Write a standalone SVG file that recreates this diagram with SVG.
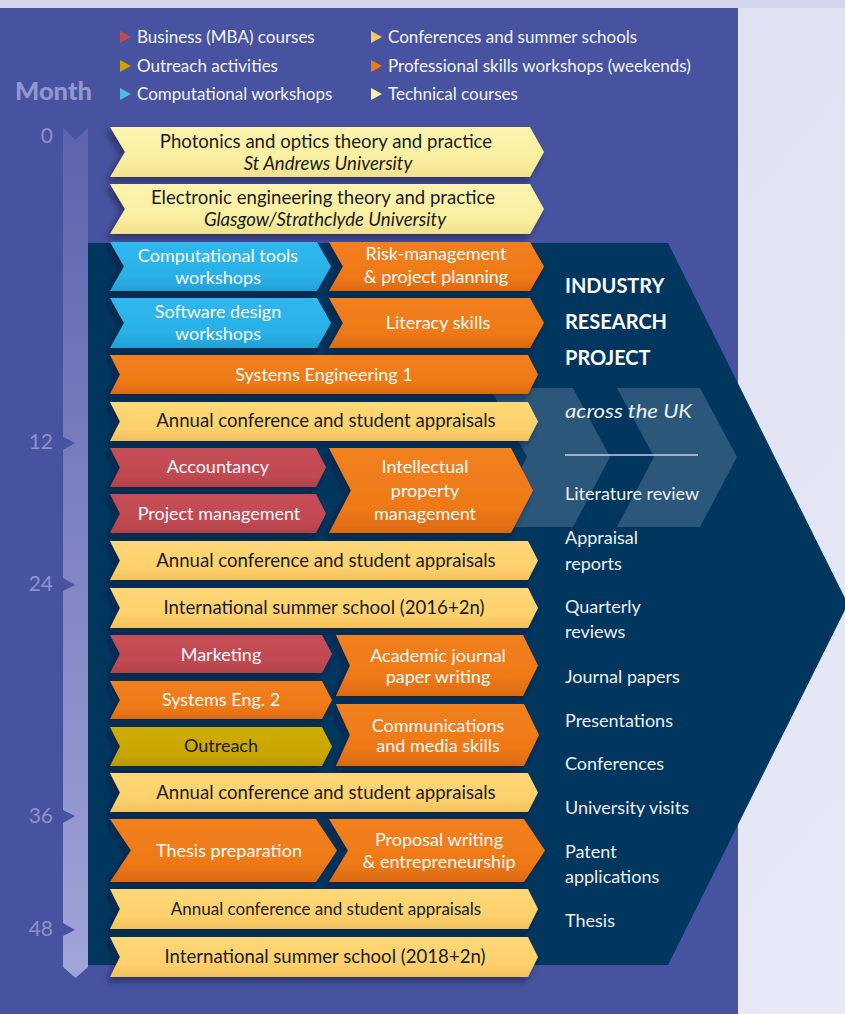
<svg xmlns="http://www.w3.org/2000/svg" width="845" height="1014" viewBox="0 0 845 1014">
<defs>
<linearGradient id="bgR" x1="0" y1="0" x2="1" y2="1"><stop offset="0" stop-color="#d9dcf0"/><stop offset="1" stop-color="#e7e9f6"/></linearGradient>
<linearGradient id="barG" x1="0" y1="128" x2="0" y2="978" gradientUnits="userSpaceOnUse"><stop offset="0" stop-color="#5d64ad"/><stop offset="1" stop-color="#a1a4d7"/></linearGradient>
<linearGradient id="gPale" x1="0" y1="0" x2="0" y2="1"><stop offset="0" stop-color="#fcf4b0"/><stop offset="0.7" stop-color="#faef9f"/><stop offset="1" stop-color="#efe08c"/></linearGradient>
<linearGradient id="gLight" x1="0" y1="0" x2="0" y2="1"><stop offset="0" stop-color="#fed877"/><stop offset="0.7" stop-color="#fdd06b"/><stop offset="1" stop-color="#f0c05c"/></linearGradient>
<linearGradient id="gOrange" x1="0" y1="0" x2="0" y2="1"><stop offset="0" stop-color="#f2801e"/><stop offset="0.7" stop-color="#ee7917"/><stop offset="1" stop-color="#dc6a10"/></linearGradient>
<linearGradient id="gCyan" x1="0" y1="0" x2="0" y2="1"><stop offset="0" stop-color="#30b8ee"/><stop offset="0.7" stop-color="#2ab1e7"/><stop offset="1" stop-color="#22a0d6"/></linearGradient>
<linearGradient id="gRed" x1="0" y1="0" x2="0" y2="1"><stop offset="0" stop-color="#c64e57"/><stop offset="0.7" stop-color="#c14951"/><stop offset="1" stop-color="#b0424a"/></linearGradient>
<linearGradient id="gGold" x1="0" y1="0" x2="0" y2="1"><stop offset="0" stop-color="#cfac02"/><stop offset="0.7" stop-color="#c9a600"/><stop offset="1" stop-color="#b99800"/></linearGradient>
<filter id="sh" x="-10%" y="-20%" width="120%" height="150%"><feDropShadow dx="-3" dy="4" stdDeviation="3" flood-color="#07102e" flood-opacity="0.55"/></filter>
</defs>
<style>
.t{font-family:Lato,"Liberation Sans",sans-serif}
.lg{font-size:17px;fill:#f2f3fa}
.dk{font-size:18.6px;fill:#1b1b1b;text-anchor:middle}
.wt{font-size:18px;fill:#fbfbfd;text-anchor:middle}
.rp{font-size:18px;fill:#eef0f6}
.mn{font-size:21px;fill:#8c92cc;text-anchor:end}
.pale{fill:url(#gPale);filter:url(#sh)}
.light{fill:url(#gLight);filter:url(#sh)}
.orange{fill:url(#gOrange);filter:url(#sh)}
.cyan{fill:url(#gCyan);filter:url(#sh)}
.red{fill:url(#gRed);filter:url(#sh)}
.gold{fill:url(#gGold);filter:url(#sh)}
.notch{fill:#4753a0}
</style>
<g id="background">
<rect x="0" y="0" width="845" height="1014" fill="url(#bgR)"/>
<rect x="0" y="0" width="845" height="8" fill="#d2d5eb"/>
<rect x="0" y="8" width="738" height="1006" fill="#4753a0"/>
<polygon points="88,243 668,243 848,604 668,965 88,965" fill="#01365f"/>
<polygon points="490,388 573,388 610,457 573,527 490,527 527,457" fill="#ffffff" fill-opacity="0.17"/>
<polygon points="617,388 700,388 737,457 700,527 617,527 654,457" fill="#ffffff" fill-opacity="0.17"/>
<line x1="565" y1="455" x2="698" y2="455" stroke="#c9cee2" stroke-width="1.5"/>
</g>
<g id="legend" class="t">
<polygon points="120,31 131,37 120,43" fill="#c24a52"/>
<text class="lg" x="137" y="43">Business (MBA) courses</text>
<polygon points="120,60 131,66 120,72" fill="#c9a600"/>
<text class="lg" x="137" y="72">Outreach activities</text>
<polygon points="120,88 131,94 120,100" fill="#4fb9ec"/>
<text class="lg" x="137" y="100">Computational workshops</text>
<polygon points="371,31 382,37 371,43" fill="#fdc860"/>
<text class="lg" x="388" y="43">Conferences and summer schools</text>
<polygon points="371,60 382,66 371,72" fill="#ee7a18"/>
<text class="lg" x="388" y="72">Professional skills workshops (weekends)</text>
<polygon points="371,88 382,94 371,100" fill="#fbf1a4"/>
<text class="lg" x="388" y="100">Technical courses</text>
</g>
<g id="timeline" class="t">
<text x="15" y="100" font-size="24" font-weight="900" fill="#9298cc" textLength="77" lengthAdjust="spacingAndGlyphs">Month</text>
<path d="M63,128 L75.5,140 L88,128 L88,967 L75.5,978 L63,967 Z" fill="url(#barG)"/>
<polygon class="notch" points="63,437 75,443 63,450"/>
<polygon class="notch" points="63,578 75,585 63,591"/>
<polygon class="notch" points="63,810 75,816 63,823"/>
<polygon class="notch" points="63,923 75,930 63,936"/>
<text class="mn" x="53" y="143">0</text>
<text class="mn" x="53" y="449">12</text>
<text class="mn" x="53" y="591">24</text>
<text class="mn" x="53" y="823">36</text>
<text class="mn" x="53" y="936">48</text>
</g>
<g id="n-photonics" class="t">
<path class="pale" d="M110,127 L530,127 L544,152 L530,177 L110,177 L125,152 Z"/>
<text class="dk" x="326" y="148">Photonics and optics theory and practice</text>
<text class="dk" x="328" y="170" font-style="italic">St Andrews University</text>
</g>
<g id="n-electronic" class="t">
<path class="pale" d="M110,184 L530,184 L544,209 L530,234 L110,234 L125,209 Z"/>
<text class="dk" x="323" y="204">Electronic engineering theory and practice</text>
<text class="dk" x="325" y="226" font-style="italic">Glasgow/Strathclyde University</text>
</g>
<g id="n-comptools" class="t">
<path class="cyan" d="M110,242 L317,242 L331,266.5 L317,291 L110,291 L124,266.5 Z"/>
<text class="wt" x="218" y="262">Computational tools</text>
<text class="wt" x="218" y="284">workshops</text>
</g>
<g id="n-risk" class="t">
<path class="orange" d="M329,242 L530,242 L544,266.5 L530,291 L329,291 L343,266.5 Z"/>
<text class="wt" x="436" y="260">Risk-management</text>
<text class="wt" x="436" y="283">&amp; project planning</text>
</g>
<g id="n-software" class="t">
<path class="cyan" d="M110,298 L317,298 L331,323 L317,348 L110,348 L124,323 Z"/>
<text class="wt" x="218" y="318">Software design</text>
<text class="wt" x="218" y="340">workshops</text>
</g>
<g id="n-literacy" class="t">
<path class="orange" d="M329,298 L530,298 L544,323 L530,348 L329,348 L343,323 Z"/>
<text class="wt" x="438" y="329">Literacy skills</text>
</g>
<g id="n-syseng1" class="t">
<path class="orange" d="M110,355 L528,355 L538,374.5 L528,394 L110,394 L120,374.5 Z"/>
<text class="wt" x="324" y="381">Systems Engineering 1</text>
</g>
<g id="n-annual1" class="t">
<path class="light" d="M110,402 L528,402 L538,421.5 L528,441 L110,441 L120,421.5 Z"/>
<text class="dk" x="326" y="427">Annual conference and student appraisals</text>
</g>
<g id="n-accountancy" class="t">
<path class="red" d="M110,448 L316,448 L326,467.5 L316,487 L110,487 L120,467.5 Z"/>
<text class="wt" x="218" y="473">Accountancy</text>
</g>
<g id="n-projmgmt" class="t">
<path class="red" d="M110,494 L316,494 L326,513.5 L316,533 L110,533 L120,513.5 Z"/>
<text class="wt" x="219" y="520">Project management</text>
</g>
<g id="n-ip" class="t">
<path class="orange" d="M329,448 L511,448 L533,490.5 L511,533 L329,533 L351,490.5 Z"/>
<text class="wt" x="425" y="473">Intellectual</text>
<text class="wt" x="425" y="497">property</text>
<text class="wt" x="425" y="520">management</text>
</g>
<g id="n-annual2" class="t">
<path class="light" d="M110,541 L528,541 L538,560.5 L528,580 L110,580 L120,560.5 Z"/>
<text class="dk" x="326" y="567">Annual conference and student appraisals</text>
</g>
<g id="n-summer1" class="t">
<path class="light" d="M110,588 L528,588 L538,608 L528,628 L110,628 L120,608 Z"/>
<text class="dk" x="324" y="614">International summer school (2016+2n)</text>
</g>
<g id="n-marketing" class="t">
<path class="red" d="M110,635 L322,635 L332,654 L322,673 L110,673 L120,654 Z"/>
<text class="wt" x="221" y="661">Marketing</text>
</g>
<g id="n-journal" class="t">
<path class="orange" d="M336,635 L523,635 L538,665.5 L523,696 L336,696 L350,665.5 Z"/>
<text class="wt" x="438" y="662">Academic journal</text>
<text class="wt" x="438" y="683">paper writing</text>
</g>
<g id="n-syseng2" class="t">
<path class="orange" d="M110,681 L322,681 L332,700 L322,719 L110,719 L120,700 Z"/>
<text class="wt" x="221" y="706">Systems Eng. 2</text>
</g>
<g id="n-outreach" class="t">
<path class="gold" d="M110,727 L322,727 L332,746.5 L322,766 L110,766 L120,746.5 Z"/>
<text x="221" y="752" class="dk" style="font-size:18px">Outreach</text>
</g>
<g id="n-comms" class="t">
<path class="orange" d="M336,704 L524,704 L539,735 L524,766 L336,766 L350,735 Z"/>
<text class="wt" x="438" y="732">Communications</text>
<text class="wt" x="438" y="752">and media skills</text>
</g>
<g id="n-annual3" class="t">
<path class="light" d="M110,773 L528,773 L538,792.5 L528,812 L110,812 L120,792.5 Z"/>
<text class="dk" x="326" y="799">Annual conference and student appraisals</text>
</g>
<g id="n-thesisprep" class="t">
<path class="orange" d="M110,819 L316,819 L337,850.5 L316,882 L110,882 L131,850.5 Z"/>
<text class="wt" x="229" y="857">Thesis preparation</text>
</g>
<g id="n-proposal" class="t">
<path class="orange" d="M329,819 L524,819 L545,850.5 L524,882 L329,882 L348,850.5 Z"/>
<text class="wt" x="439" y="846">Proposal writing</text>
<text class="wt" x="439" y="868">&amp; entrepreneurship</text>
</g>
<g id="n-annual4" class="t">
<path class="light" d="M110,889 L528,889 L538,909 L528,929 L110,929 L120,909 Z"/>
<text class="dk" x="326" y="915" style="font-size:17px">Annual conference and student appraisals</text>
</g>
<g id="n-summer2" class="t">
<path class="light" d="M110,937 L528,937 L538,957 L528,977 L110,977 L120,957 Z"/>
<text class="dk" x="325" y="963">International summer school (2018+2n)</text>
</g>
<g id="n-industry" class="t">
<text x="565" y="293" font-size="20" font-weight="bold" fill="#ffffff">INDUSTRY</text>
<text x="565" y="329" font-size="20" font-weight="bold" fill="#ffffff">RESEARCH</text>
<text x="565" y="365" font-size="20" font-weight="bold" fill="#ffffff">PROJECT</text>
<text x="565" y="418" font-size="20" font-style="italic" fill="#eef0f6" textLength="127" lengthAdjust="spacingAndGlyphs">across the UK</text>
<text class="rp" x="565" y="500">Literature review</text>
<text class="rp" x="565" y="544">Appraisal</text>
<text class="rp" x="565" y="570">reports</text>
<text class="rp" x="565" y="613">Quarterly</text>
<text class="rp" x="565" y="638">reviews</text>
<text class="rp" x="565" y="683">Journal papers</text>
<text class="rp" x="565" y="727">Presentations</text>
<text class="rp" x="565" y="770">Conferences</text>
<text class="rp" x="565" y="814">University visits</text>
<text class="rp" x="565" y="858">Patent</text>
<text class="rp" x="565" y="883">applications</text>
<text class="rp" x="565" y="927">Thesis</text>
</g>
<g id="connectors"></g>
</svg>
